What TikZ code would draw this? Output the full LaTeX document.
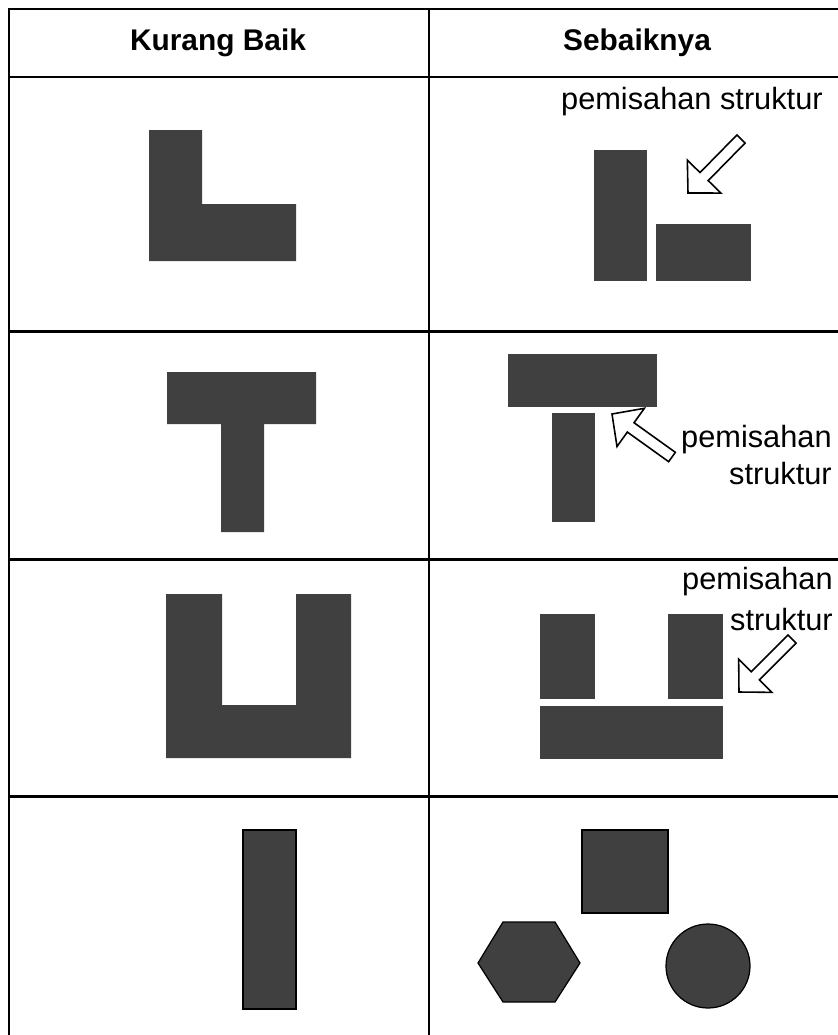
\documentclass[tikz,border=0pt]{standalone}
\usepackage{fontspec}
\setmainfont{Liberation Sans}
\usetikzlibrary{calc, shapes.geometric}
\definecolor{blockgray}{RGB}{64,64,64}

% hollow block arrow from tail #1 to tip #2
\newcommand\sepArrow[2]{%
  \coordinate (ah) at ($(#2)!0.46cm!(#1)$);
  \draw[hollow] ($(#1)!0.115cm!90:(#2)$) -- ($(ah)!0.115cm!90:(#2)$)
    -- ($(ah)!0.47cm!90:(#2)$) -- (#2) -- ($(ah)!0.47cm!-90:(#2)$)
    -- ($(ah)!0.115cm!-90:(#2)$) -- ($(#1)!0.115cm!-90:(#2)$) -- cycle;}

\begin{document}
\begin{tikzpicture}[x=0.02cm, y=-0.02cm,
    grid/.style={line width=1.7pt},
    block/.style={fill=blockgray},
    outlined/.style={fill=blockgray, draw=black, line width=0.7pt},
    hollow/.style={draw=black, fill=white, line width=0.9pt, line join=miter},
    hdr/.style={font=\fontsize{17}{20}\selectfont\bfseries},
    note/.style={font=\fontsize{17.5}{20.5}\selectfont, inner sep=0pt}
  ]
    \useasboundingbox (0,0) rectangle (838,1035);

    % table
    \draw[grid] (838,9) -- (9,9) -- (9,1035);
    \draw[grid] (429,9) -- (429,1035);
    \foreach \y in {77,331,559,796} {
      \draw[grid] (9,\y) -- (838,\y);
    }

    \node[hdr] (kurang) at (218,43) {Kurang Baik};
    \node[hdr] (sebaik) at (637,43) {Sebaiknya};

    % row 1: L shape
    \fill[block] (149,130) -- (202,130) -- (202,204) -- (296,204)
      -- (296,261) -- (149,261) -- cycle;
    \fill[block] (594,150) rectangle (647,281);
    \fill[block] (656,224) rectangle (751,281);
    \node[note, anchor=base east] (sep1) at (823,109) {pemisahan struktur};
    \coordinate (t1) at (741,139);
    \coordinate (p1) at (688,193);
    \sepArrow{t1}{p1}

    % row 2: T shape
    \fill[block] (167,372) -- (316,372) -- (316,424) -- (264,424)
      -- (264,532) -- (221,532) -- (221,424) -- (167,424) -- cycle;
    \fill[block] (508,354) rectangle (657,407);
    \fill[block] (552,413) rectangle (595,522);
    \node[note, align=right, anchor=base east] (sep2) at (832,484)
      {pemisahan\\struktur};
    \coordinate (t2) at (672,457);
    \coordinate (p2) at (612,414);
    \sepArrow{t2}{p2}

    % row 3: U shape
    \fill[block] (166,594) -- (222,594) -- (222,705) -- (296,705)
      -- (296,594) -- (351,594) -- (351,758) -- (166,758) -- cycle;
    \fill[block] (540,614) rectangle (595,699);
    \fill[block] (668,614) rectangle (723,699);
    \fill[block] (540,706) rectangle (723,759);
    \node[note, align=right, anchor=base east] (sep3) at (833,630)
      {pemisahan\\[0.08cm]struktur};
    \coordinate (t3) at (792,639);
    \coordinate (p3) at (739,692);
    \sepArrow{t3}{p3}

    % row 4: single block vs. separate masses
    \draw[outlined] (243,830) rectangle (296,1009);
    \draw[outlined] (582,830) rectangle (668,913);
    \draw[outlined] (478,963) -- (503,922) -- (555,922) -- (580,963)
      -- (555,1002) -- (503,1002) -- cycle;
    \draw[outlined] (708,966) circle[radius=0.84cm];
\end{tikzpicture}
\end{document}
